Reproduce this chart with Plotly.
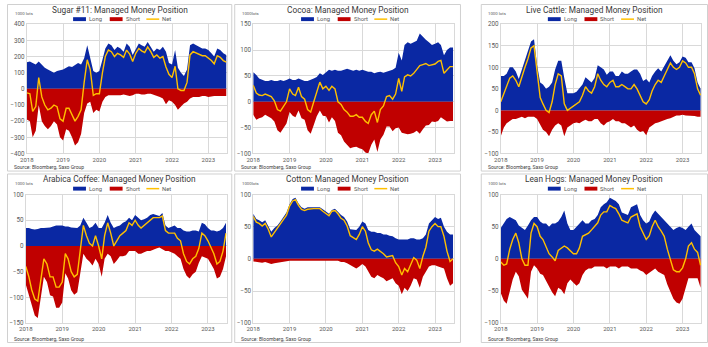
import plotly.graph_objects as go
import pandas as pd

W, H = 708, 347
dates = pd.date_range("2018-01-01", periods=67, freq="MS")

# ---------------- data (1000 lots), monthly ----------------
sugar_long = [165, 170, 160, 150, 170, 150, 130, 120, 110, 100, 110, 115,
              120, 130, 140, 135, 150, 160, 150, 190, 270, 200, 110, 100,
              110, 180, 250, 280, 270, 240, 260, 250, 230, 280, 260, 210,
              250, 280, 270, 260, 290, 260, 230, 250, 240, 260, 230, 160,
              150, 240, 130, 100, 80, 120, 270, 280, 270, 260, 250, 250,
              240, 220, 200, 250, 240, 220, 210]
sugar_short = [-190, -200, -300, -260, -100, -200, -230, -250, -230, -200, -220, -300,
               -320, -250, -260, -300, -350, -330, -280, -150, -90, -80, -150, -130,
               -140, -80, -50, -40, -40, -40, -40, -40, -35, -40, -45, -40,
               -30, -30, -35, -35, -30, -30, -35, -40, -50, -60, -95, -70,
               -80, -100, -130, -110, -90, -80, -60, -50, -50, -50, -45, -45,
               -50, -45, -45, -45, -45, -45, -45]

cocoa_long = [57, 52, 45, 42, 40, 40, 42, 40, 40, 42, 40, 42,
              45, 42, 42, 45, 42, 40, 40, 42, 45, 48, 55, 52,
              58, 62, 60, 62, 60, 60, 62, 64, 62, 60, 62, 60,
              62, 60, 58, 58, 55, 57, 58, 56, 58, 60, 62, 66,
              95, 80, 110, 115, 112, 115, 118, 132, 125, 120, 115, 110,
              112, 115, 110, 90, 100, 105, 105]
cocoa_short = [-25, -35, -32, -30, -25, -28, -32, -38, -55, -60, -50, -42,
               -20, -27, -30, -17, -32, -35, -55, -62, -45, -28, -17, -27,
               -28, -40, -30, -37, -60, -65, -77, -84, -90, -88, -87, -90,
               -92, -98, -100, -83, -73, -97, -73, -64, -48, -48, -57, -51,
               -50, -60, -62, -63, -62, -60, -56, -62, -53, -46, -45, -38,
               -39, -37, -30, -35, -38, -37, -37]

cattle_long = [80, 80, 85, 100, 100, 90, 73, 95, 118, 135, 160, 165,
               105, 65, 60, 50, 55, 65, 95, 115, 115, 75, 40, 40,
               40, 43, 50, 60, 77, 70, 65, 75, 105, 100, 95, 83,
               90, 90, 80, 80, 90, 85, 85, 90, 95, 95, 85, 68,
               73, 65, 80, 90, 98, 90, 102, 115, 128, 115, 107, 112,
               125, 122, 112, 112, 98, 65, 50]
cattle_short = [-60, -40, -30, -25, -20, -20, -18, -15, -18, -15, -15, -15,
                -20, -35, -45, -50, -60, -45, -35, -30, -35, -60, -40, -35,
                -30, -28, -30, -25, -22, -25, -25, -20, -20, -30, -35, -28,
                -25, -20, -25, -25, -30, -30, -35, -40, -35, -45, -50, -48,
                -58, -40, -35, -30, -28, -25, -22, -20, -18, -15, -12, -12,
                -10, -12, -12, -12, -13, -15, -15]

coffee_long = [35, 35, 33, 32, 33, 35, 35, 35, 36, 38, 40, 40,
               40, 38, 38, 36, 35, 35, 40, 55, 45, 35, 38, 45,
               35, 35, 45, 60, 45, 35, 38, 40, 45, 48, 55, 50,
               60, 55, 50, 52, 55, 60, 62, 60, 58, 64, 40, 35,
               38, 40, 35, 35, 30, 28, 28, 30, 30, 28, 45, 42,
               35, 30, 30, 28, 30, 35, 45]
coffee_short = [-75, -95, -118, -135, -140, -95, -60, -70, -96, -98, -120, -120,
                -110, -53, -63, -86, -95, -90, -50, -15, -25, -30, -38, -25,
                -35, -60, -25, -15, -20, -35, -28, -20, -20, -18, -10, -10,
                -10, -15, -15, -12, -10, -10, -7, -5, -3, -6, -10, -10,
                -13, -15, -20, -25, -45, -58, -63, -55, -50, -33, -20, -22,
                -25, -35, -45, -63, -60, -45, -20]

cotton_long = [70, 62, 60, 57, 60, 52, 42, 48, 52, 58, 65, 72,
               85, 93, 95, 86, 80, 78, 80, 80, 80, 80, 80, 77,
               73, 70, 76, 78, 73, 68, 65, 58, 46, 45, 45, 50,
               58, 55, 45, 42, 42, 40, 40, 38, 38, 36, 35, 32,
               30, 30, 30, 30, 32, 32, 30, 30, 32, 38, 55, 60,
               65, 62, 64, 50, 42, 38, 38]
cotton_short = [-4, -5, -5, -6, -5, -6, -8, -7, -6, -5, -4, -4,
                -3, -3, -3, -3, -3, -3, -3, -2, -2, -2, -2, -3,
                -3, -3, -2, -3, -3, -5, -5, -7, -10, -12, -15, -12,
                -8, -12, -20, -28, -30, -25, -28, -30, -35, -32, -30, -38,
                -42, -55, -45, -50, -42, -30, -32, -45, -28, -20, -12, -10,
                -10, -12, -14, -15, -30, -42, -38]

hogs_long = [48, 55, 62, 65, 62, 60, 52, 48, 45, 52, 60, 65,
             65, 58, 55, 55, 50, 55, 55, 58, 65, 75, 55, 45,
             45, 50, 55, 60, 55, 55, 60, 62, 68, 80, 85, 88,
             95, 92, 90, 85, 72, 70, 68, 80, 82, 85, 68, 60,
             55, 58, 68, 75, 70, 65, 60, 55, 50, 45, 48, 50,
             48, 45, 50, 55, 45, 40, 35]
hogs_short = [-53, -65, -70, -50, -32, -20, -27, -48, -55, -62, -20, -10,
              -15, -23, -25, -35, -42, -52, -58, -45, -48, -55, -38, -32,
              -37, -42, -38, -25, -18, -15, -15, -12, -12, -12, -12, -15,
              -12, -12, -12, -15, -12, -12, -12, -15, -15, -15, -18, -20,
              -25, -22, -18, -15, -20, -22, -25, -40, -52, -62, -68, -70,
              -62, -45, -30, -30, -30, -30, -45]

BLUE, RED, GOLD = "#0A28A3", "#C00000", "#FFC000"
GRID = "#D9D9D9"
FONT = "Roboto"

panels = [
    dict(title="Sugar #11: Managed Money Position", unit="1000 lots",
         long=sugar_long, short=sugar_short, yr=[-400, 400], dt=100,
         frame=(0.5, 227, 0.5, 171), plot=(20, 222, 20.7, 153)),
    dict(title="Cocoa: Managed Money Position", unit="1000lots",
         long=cocoa_long, short=cocoa_short, yr=[-100, 150], dt=50,
         frame=(230, 458, 0.5, 171), plot=(248.7, 451, 20.7, 153)),
    dict(title="Live Cattle: Managed Money Position", unit="1000 lots",
         long=cattle_long, short=cattle_short, yr=[-100, 200], dt=50,
         frame=(479, 707.5, 0.5, 171), plot=(498.7, 701, 20.7, 153)),
    dict(title="Arabica Coffee: Managed Money Position", unit="1000 lots",
         long=coffee_long, short=coffee_short, yr=[-150, 100], dt=50,
         frame=(0.5, 227, 174, 346.5), plot=(19, 221.7, 195, 326.7)),
    dict(title="Cotton: Managed Money Position", unit="1000lots",
         long=cotton_long, short=cotton_short, yr=[-100, 100], dt=50,
         frame=(230, 458, 174, 346.5), plot=(248.7, 451, 195, 326.7)),
    dict(title="Lean Hogs: Managed Money Position", unit="1000 lots",
         long=hogs_long, short=hogs_short, yr=[-100, 100], dt=50,
         frame=(479, 707.5, 174, 346.5), plot=(498.7, 701, 195, 326.7)),
]


def px(x):
    return x / W


def py(y):
    return 1 - y / H


fig = go.Figure()
shapes, annos = [], []
layout = {}

for i, p in enumerate(panels, start=1):
    xa = "x" if i == 1 else f"x{i}"
    ya = "y" if i == 1 else f"y{i}"
    net = [a + b for a, b in zip(p["long"], p["short"])]
    fig.add_trace(go.Scatter(x=dates, y=p["long"], mode="lines", fill="tozeroy",
                             fillcolor=BLUE, line=dict(width=0, color=BLUE),
                             xaxis=xa, yaxis=ya, showlegend=False, name="Long"))
    fig.add_trace(go.Scatter(x=dates, y=p["short"], mode="lines", fill="tozeroy",
                             fillcolor=RED, line=dict(width=0, color=RED),
                             xaxis=xa, yaxis=ya, showlegend=False, name="Short"))
    fig.add_trace(go.Scatter(x=dates, y=net, mode="lines",
                             line=dict(width=1.4, color=GOLD),
                             xaxis=xa, yaxis=ya, showlegend=False, name="Net"))

    x0, x1, y0, y1 = p["plot"]
    kx = "xaxis" if i == 1 else f"xaxis{i}"
    ky = "yaxis" if i == 1 else f"yaxis{i}"
    layout[kx] = dict(domain=[px(x0), px(x1)], anchor=ya, type="date",
                      range=["2018-01-01", "2023-07-06"], dtick="M12",
                      tick0="2018-01-01", tickformat="%Y",
                      showgrid=True, gridcolor=GRID, gridwidth=1,
                      showline=True, linecolor=GRID, mirror=True,
                      ticks="", tickfont=dict(size=6, color="#595959", family=FONT),
                      zeroline=False, fixedrange=True)
    layout[ky] = dict(domain=[py(y1), py(y0)], anchor=xa,
                      range=p["yr"], dtick=p["dt"], tick0=0,
                      showgrid=True, gridcolor=GRID, gridwidth=1,
                      showline=True, linecolor=GRID, mirror=True,
                      ticks="", tickfont=dict(size=6.3, color="#595959", family=FONT),
                      zeroline=False, fixedrange=True)

    fx0, fx1, fy0, fy1 = p["frame"]
    shapes.append(dict(type="rect", xref="paper", yref="paper",
                       x0=px(fx0), x1=px(fx1), y0=py(fy1), y1=py(fy0),
                       line=dict(color="#D0D0D0", width=1), layer="below"))
    cx = (fx0 + fx1) / 2
    # title
    annos.append(dict(text=p["title"], xref="paper", yref="paper",
                      x=px(cx), y=py(fy0 + 5.5), xanchor="center", yanchor="middle",
                      showarrow=False, font=dict(size=8.3, color="#3A3A3A", family=FONT)))
    # unit
    annos.append(dict(text=p["unit"], xref="paper", yref="paper",
                      x=px(fx0 + 6 if fx0 < 5 else fx0 + 5), y=py(fy0 + 9.5),
                      xanchor="left", yanchor="middle",
                      showarrow=False, font=dict(size=4.3, color="#595959", family=FONT)))
    # source
    annos.append(dict(text="Source: Bloomberg, Saxo Group", xref="paper", yref="paper",
                      x=px(fx0 + 4.5), y=py(fy1 - 4), xanchor="left", yanchor="middle",
                      showarrow=False, font=dict(size=5, color="#404040", family=FONT)))
    # legend
    ly = fy0 + 15
    for off, lab, col, kind in [(-47, "Long", BLUE, "rect"), (-10, "Short", RED, "rect"),
                                (27, "Net", GOLD, "line")]:
        sx = cx + off
        if kind == "rect":
            shapes.append(dict(type="rect", xref="paper", yref="paper",
                               x0=px(sx), x1=px(sx + 13), y0=py(ly + 2), y1=py(ly - 2),
                               fillcolor=col, line=dict(width=0)))
        else:
            shapes.append(dict(type="line", xref="paper", yref="paper",
                               x0=px(sx), x1=px(sx + 13), y0=py(ly), y1=py(ly),
                               line=dict(color=col, width=1.5)))
        annos.append(dict(text=lab, xref="paper", yref="paper",
                          x=px(sx + 14), y=py(ly), xanchor="left", yanchor="middle",
                          showarrow=False, font=dict(size=5.8, color="#595959", family=FONT)))

fig.update_layout(width=W, height=H, margin=dict(l=0, r=0, t=0, b=0),
                  paper_bgcolor="white", plot_bgcolor="white",
                  showlegend=False, shapes=shapes, annotations=annos,
                  font=dict(family=FONT), **layout)

fig.write_html("out.html", include_plotlyjs=True, config={"displayModeBar": False})
